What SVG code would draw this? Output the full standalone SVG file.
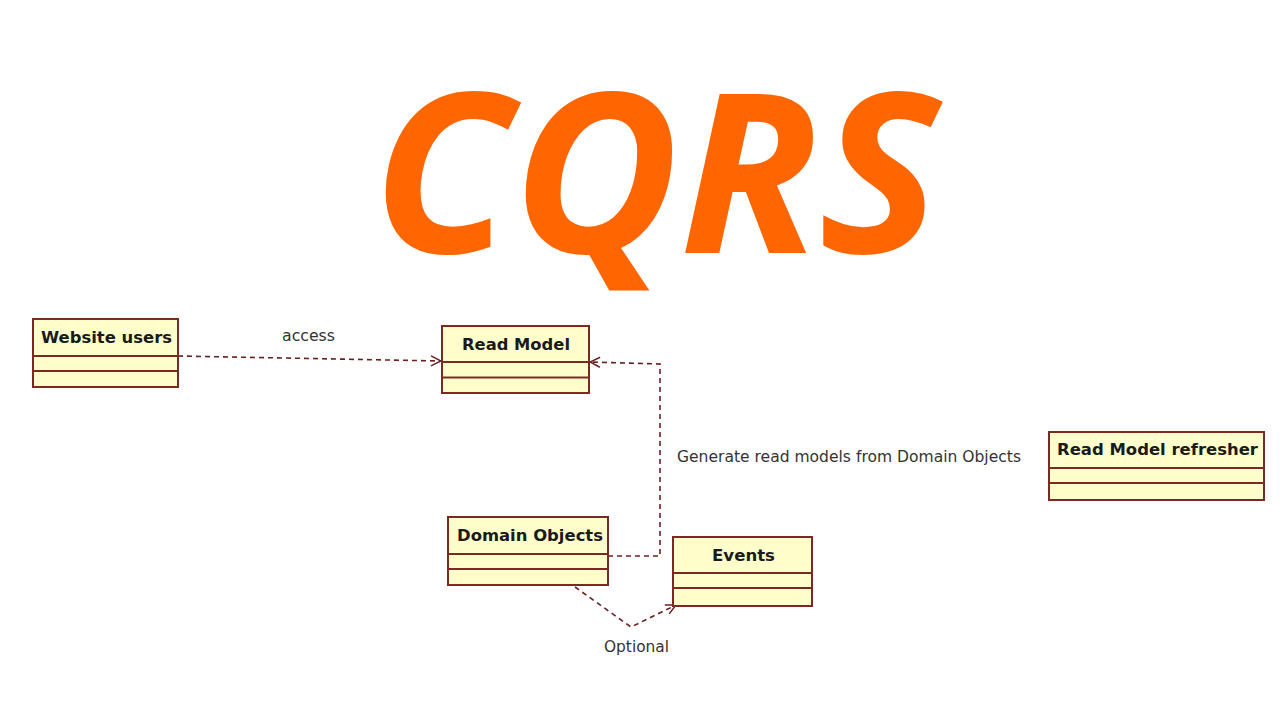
<svg xmlns="http://www.w3.org/2000/svg" width="1280" height="720" viewBox="0 0 1280 720">
<defs>
<style>
.box{fill:#FFFFCC;stroke:#7A2A22;stroke-width:2}
.div{stroke:#7A2A22;stroke-width:2}
.title{font-family:"DejaVu Sans","Liberation Sans",sans-serif;font-weight:bold;font-size:16px;fill:#1a1a1a}
.lbl{font-family:"DejaVu Sans","Liberation Sans",sans-serif;font-size:15px;fill:#333}
.conn{fill:none;stroke:#6B2020;stroke-width:1.6;stroke-dasharray:5 4}
</style>
<marker id="open" viewBox="0 0 12 12" refX="11" refY="6" markerWidth="12" markerHeight="12" markerUnits="userSpaceOnUse" orient="auto">
<path d="M1 1 L11 6 L1 11" fill="none" stroke="#6B2020" stroke-width="1.5"/>
</marker>
</defs>
<rect width="1280" height="720" fill="#ffffff"/>
<text x="372" y="253" font-family="'Open Sans','Noto Sans',sans-serif" font-weight="bold" font-style="italic" font-size="222" fill="#FF6600" textLength="568" lengthAdjust="spacingAndGlyphs">CQRS</text>

<g id="connectors">
<path class="conn" d="M178 356 L441 361" marker-end="url(#open)"/>
<path class="conn" d="M608 556 L660 556 L660 364 L590 362" marker-end="url(#open)"/>
<path class="conn" d="M575 587 L631 627 L676 605" marker-end="url(#open)"/>
<text class="lbl" x="282" y="341" textLength="53" lengthAdjust="spacingAndGlyphs">access</text>
<text class="lbl" x="677" y="462" textLength="344" lengthAdjust="spacingAndGlyphs">Generate read models from Domain Objects</text>
<text class="lbl" x="604" y="652" textLength="65" lengthAdjust="spacingAndGlyphs">Optional</text>
</g>

<g id="website-users">
<rect class="box" x="33" y="319" width="145" height="68"/>
<line class="div" x1="33" y1="356" x2="178" y2="356"/>
<line class="div" x1="33" y1="371" x2="178" y2="371"/>
<text class="title" x="41" y="343" textLength="131" lengthAdjust="spacingAndGlyphs">Website users</text>
</g>

<g id="read-model">
<rect class="box" x="442" y="326" width="147" height="67"/>
<line class="div" x1="442" y1="362" x2="589" y2="362"/>
<line class="div" x1="442" y1="377.5" x2="589" y2="377.5"/>
<text class="title" x="462" y="350" textLength="108" lengthAdjust="spacingAndGlyphs">Read Model</text>
</g>

<g id="domain-objects">
<rect class="box" x="448" y="517" width="160" height="68"/>
<line class="div" x1="448" y1="554" x2="608" y2="554"/>
<line class="div" x1="448" y1="569" x2="608" y2="569"/>
<text class="title" x="457" y="541" textLength="146" lengthAdjust="spacingAndGlyphs">Domain Objects</text>
</g>

<g id="events">
<rect class="box" x="673" y="537" width="139" height="69"/>
<line class="div" x1="673" y1="573" x2="812" y2="573"/>
<line class="div" x1="673" y1="588" x2="812" y2="588"/>
<text class="title" x="712" y="561" textLength="63" lengthAdjust="spacingAndGlyphs">Events</text>
</g>

<g id="read-model-refresher">
<rect class="box" x="1049" y="432" width="215" height="68"/>
<line class="div" x1="1049" y1="468" x2="1264" y2="468"/>
<line class="div" x1="1049" y1="483" x2="1264" y2="483"/>
<text class="title" x="1057" y="455" textLength="201" lengthAdjust="spacingAndGlyphs">Read Model refresher</text>
</g>
</svg>
